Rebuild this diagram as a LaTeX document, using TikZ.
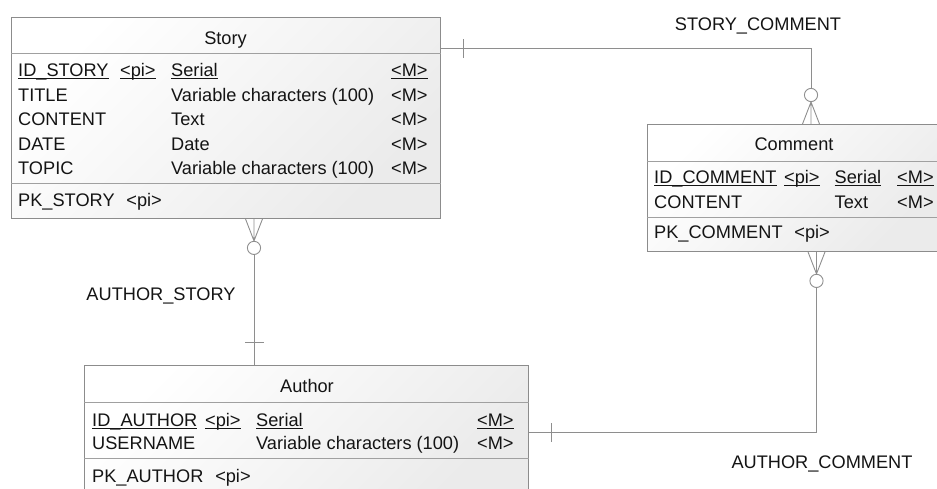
\documentclass[tikz,border=0pt]{standalone}
\usepackage{fontspec}
\setmainfont{Liberation Sans}
\usetikzlibrary{calc}

\definecolor{edge}{HTML}{8C8C8C}
\definecolor{rowline}{HTML}{A0A0A0}
\definecolor{wire}{HTML}{8E8E8E}
\definecolor{ink}{HTML}{141414}

% underline at a fixed depth, independent of descenders
\newcommand\keyul[1]{\setbox0\hbox{#1}\rlap{\rule[-2.8pt]{\wd0}{0.9pt}}\box0}

\tikzset{
  entity/.style={draw=edge, line width=0.9pt, top color=white, bottom color=black!8,
    shading angle=45, anchor=north west, inner sep=0pt},
  divider/.style={draw=rowline, line width=0.9pt},
  conn/.style={draw=wire, line width=0.9pt},
  txt/.style={inner sep=0pt, anchor=base west, text=ink, font=\fontsize{18.2}{20}\selectfont},
  ttl/.style={txt, anchor=base},
  % crow's foot with ring (zero or many), drawn outward along +y
  many/.pic={
    \draw[conn] (-8.5,0) -- (0,22) (0,0) -- (0,22) (8.5,0) -- (0,22);
    \draw[conn] (0,29) circle[radius=6.6];
  },
  % single bar (exactly one)
  one/.pic={
    \draw[conn] (-9.5,23) -- (9.5,23);
  },
}

\begin{document}
\begin{tikzpicture}[x=1pt,y=-1pt]
\path[use as bounding box] (0,0) rectangle (937,488);
\clip (0,0) rectangle (937,488);

% ---------- entity boxes ----------
\node[entity, minimum width=429pt, minimum height=201pt] (story) at (11,17) {};
\node[entity, minimum width=294pt, minimum height=127pt] (comment) at (647,124) {};
\node[entity, minimum width=444pt, minimum height=135pt] (author) at (84,365) {};

\draw[divider] ($(story.north west)+(0,36)$) -- ($(story.north east)+(0,36)$);
\draw[divider] ($(story.north west)+(0,166)$) -- ($(story.north east)+(0,166)$);
\draw[divider] ($(comment.north west)+(0,37)$) -- ($(comment.north east)+(0,37)$);
\draw[divider] ($(comment.north west)+(0,93)$) -- ($(comment.north east)+(0,93)$);
\draw[divider] ($(author.north west)+(0,37)$) -- ($(author.north east)+(0,37)$);
\draw[divider] ($(author.north west)+(0,93)$) -- ($(author.north east)+(0,93)$);

% ---------- Story ----------
\node[ttl] (s-title) at (225.5,44) {Story};
\node[txt] (s-n1) at (18,76.5) {\keyul{ID\_STORY}};
\node[txt] (s-p1) at (120,76.5) {\keyul{<pi>}};
\node[txt] (s-t1) at (171,76.5) {\keyul{Serial}};
\node[txt] (s-m1) at (391,76.5) {\keyul{<M>}};
\node[txt] (s-n2) at (18,101) {TITLE};
\node[txt] (s-t2) at (171,101) {Variable characters (100)};
\node[txt] (s-m2) at (391,101) {<M>};
\node[txt] (s-n3) at (18,125.5) {CONTENT};
\node[txt] (s-t3) at (171,125.5) {Text};
\node[txt] (s-m3) at (391,125.5) {<M>};
\node[txt] (s-n4) at (18,150) {DATE};
\node[txt] (s-t4) at (171,150) {Date};
\node[txt] (s-m4) at (391,150) {<M>};
\node[txt] (s-n5) at (18,174.5) {TOPIC};
\node[txt] (s-t5) at (171,174.5) {Variable characters (100)};
\node[txt] (s-m5) at (391,174.5) {<M>};
\node[txt] (s-pk) at (18,206) {PK\_STORY\hspace{0.65em}<pi>};

% ---------- Comment ----------
\node[ttl] (c-title) at (794,150.5) {Comment};
\node[txt] (c-n1) at (654,183) {\keyul{ID\_COMMENT}};
\node[txt] (c-p1) at (784,183) {\keyul{<pi>}};
\node[txt] (c-t1) at (834.5,183) {\keyul{Serial}};
\node[txt] (c-m1) at (897,183) {\keyul{<M>}};
\node[txt] (c-n2) at (654,208) {CONTENT};
\node[txt] (c-t2) at (834.5,208) {Text};
\node[txt] (c-m2) at (897,208) {<M>};
\node[txt] (c-pk) at (654,238.5) {PK\_COMMENT\hspace{0.65em}<pi>};

% ---------- Author ----------
\node[ttl] (a-title) at (307,392) {Author};
\node[txt] (a-n1) at (92,426) {\keyul{ID\_AUTHOR}};
\node[txt] (a-p1) at (205,426) {\keyul{<pi>}};
\node[txt] (a-t1) at (256,426) {\keyul{Serial}};
\node[txt] (a-m1) at (477,426) {\keyul{<M>}};
\node[txt] (a-n2) at (92,449.5) {USERNAME};
\node[txt] (a-t2) at (256,449.5) {Variable characters (100)};
\node[txt] (a-m2) at (477,449.5) {<M>};
\node[txt] (a-pk) at (92,482) {PK\_AUTHOR\hspace{0.65em}<pi>};

% ---------- relationship ends ----------
\coordinate (sc-s) at ($(story.north east)+(0,31)$);
\coordinate (sc-c) at ($(comment.north west)+(164,0)$);
\coordinate (sa-s) at ($(story.south west)+(243,0)$);
\coordinate (sa-a) at ($(author.north west)+(170,0)$);
\coordinate (ac-a) at ($(author.north east)+(0,67)$);
\coordinate (ac-c) at ($(comment.south west)+(169.5,0)$);

% STORY_COMMENT
\draw[conn] (sc-s) -| ($(sc-c)+(0,-35.6)$);
\pic[rotate=90] at (sc-s) {one};
\pic[rotate=180] at (sc-c) {many};

% AUTHOR_STORY
\draw[conn] ($(sa-s)+(0,35.6)$) -- (sa-a);
\pic at (sa-s) {many};
\pic[rotate=180] at (sa-a) {one};

% AUTHOR_COMMENT
\draw[conn] ($(ac-c)+(0,35.6)$) |- (ac-a);
\pic at (ac-c) {many};
\pic[rotate=90] at (ac-a) {one};

% ---------- relationship names ----------
\node[ttl] (l-sc) at (758,30) {STORY\_COMMENT};
\node[ttl] (l-as) at (161,300) {AUTHOR\_STORY};
\node[ttl] (l-ac) at (822,468) {AUTHOR\_COMMENT};
\end{tikzpicture}
\end{document}
